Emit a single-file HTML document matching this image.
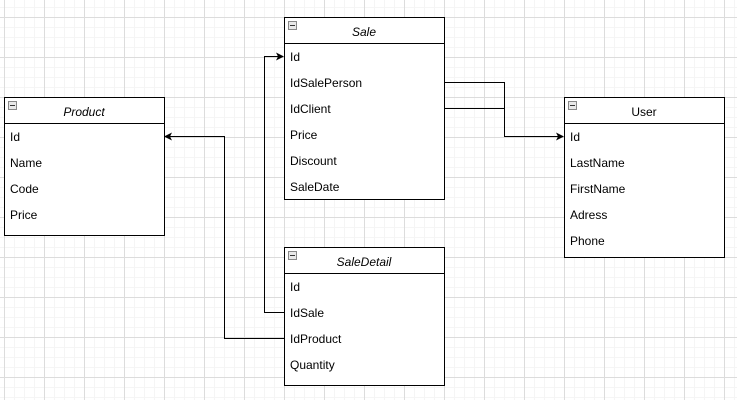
<!DOCTYPE html>
<html><head><meta charset="utf-8"><style>
html,body{margin:0;padding:0;background:#fff;}
svg{display:block;}
text{font-family:"Liberation Sans",Arial,sans-serif;font-size:12px;fill:#000;}
</style></head><body>
<svg width="737" height="400" viewBox="0 0 737 400" xmlns="http://www.w3.org/2000/svg">
<defs>
<pattern id="minor" x="4" y="7" width="10" height="10" patternUnits="userSpaceOnUse">
<path d="M0.5 0V10M0 0.5H10" stroke="#f5f5f5" stroke-width="1" fill="none"/>
</pattern>
<pattern id="major" x="4" y="17" width="40" height="40" patternUnits="userSpaceOnUse">
<path d="M0.5 0V40M0 0.5H40" stroke="#dcdcdc" stroke-width="1" fill="none"/>
</pattern>
<g id="minus"><rect x="0.5" y="0.5" width="8" height="8" fill="#e8e8e8" stroke="#888"/><line x1="2" y1="4.5" x2="7" y2="4.5" stroke="#333"/></g>
</defs>
<rect width="737" height="400" fill="url(#minor)"/>
<rect width="737" height="400" fill="url(#major)"/>

<g stroke="#000" stroke-width="1" fill="none">
<polyline points="444.5,82.5 504.5,82.5 504.5,136.5 558,136.5"/>
<polyline points="444.5,108.5 504.5,108.5"/>
<polyline points="284,312.5 264.5,312.5 264.5,56.5 278,56.5"/>
<polyline points="284,338.5 224.5,338.5 224.5,136.5 170,136.5"/>
</g>
<g fill="#000">
<polygon points="564,136.5 556,132.5 558,136.5 556,140.5"/>
<polygon points="284,56.5 276,52.5 278,56.5 276,60.5"/>
<polygon points="164,136.5 172,132.5 170,136.5 172,140.5"/>
</g>

<g transform="translate(284,17)">
<rect x="0.5" y="0.5" width="160" height="182" fill="#fff" stroke="#000"/>
<line x1="0" y1="26.5" x2="161" y2="26.5" stroke="#000"/>
<use href="#minus" x="4" y="4"/>
<text x="80" y="19" text-anchor="middle" font-style="italic">Sale</text>
<text x="6" y="44">Id</text>
<text x="6" y="70">IdSalePerson</text>
<text x="6" y="96">IdClient</text>
<text x="6" y="122">Price</text>
<text x="6" y="148">Discount</text>
<text x="6" y="174">SaleDate</text>
</g>

<g transform="translate(4,97)">
<rect x="0.5" y="0.5" width="160" height="138" fill="#fff" stroke="#000"/>
<line x1="0" y1="26.5" x2="161" y2="26.5" stroke="#000"/>
<use href="#minus" x="4" y="4"/>
<text x="80" y="19" text-anchor="middle" font-style="italic">Product</text>
<text x="6" y="44">Id</text>
<text x="6" y="70">Name</text>
<text x="6" y="96">Code</text>
<text x="6" y="122">Price</text>
</g>

<g transform="translate(564,97)">
<rect x="0.5" y="0.5" width="160" height="160" fill="#fff" stroke="#000"/>
<line x1="0" y1="26.5" x2="161" y2="26.5" stroke="#000"/>
<use href="#minus" x="4" y="4"/>
<text x="80" y="19" text-anchor="middle">User</text>
<text x="6" y="44">Id</text>
<text x="6" y="70">LastName</text>
<text x="6" y="96">FirstName</text>
<text x="6" y="122">Adress</text>
<text x="6" y="148">Phone</text>
</g>

<g transform="translate(284,247)">
<rect x="0.5" y="0.5" width="160" height="138" fill="#fff" stroke="#000"/>
<line x1="0" y1="26.5" x2="161" y2="26.5" stroke="#000"/>
<use href="#minus" x="4" y="4"/>
<text x="80" y="19" text-anchor="middle" font-style="italic">SaleDetail</text>
<text x="6" y="44">Id</text>
<text x="6" y="70">IdSale</text>
<text x="6" y="96">IdProduct</text>
<text x="6" y="122">Quantity</text>
</g>
</svg>
</body></html>
